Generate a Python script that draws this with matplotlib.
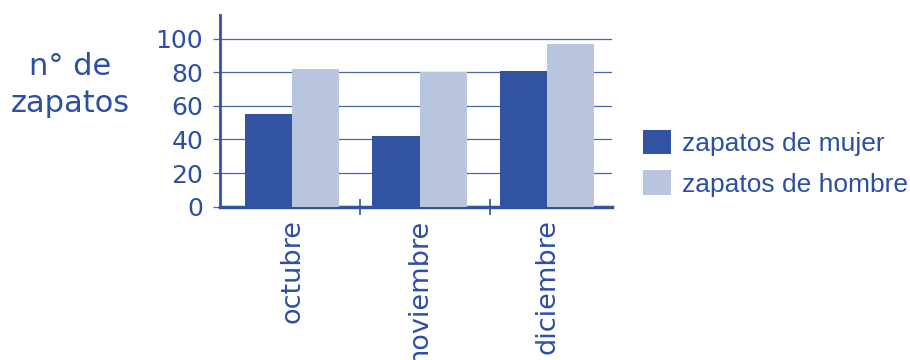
import matplotlib
matplotlib.use("Agg")
import matplotlib.pyplot as plt
import numpy as np

categories = ["octubre", "noviembre", "diciembre"]
mujer = [55, 42, 81]
hombre = [82, 80, 97]
yticks = [0, 20, 40, 60, 80, 100]
series_labels = ["zapatos de mujer", "zapatos de hombre"]

TXT = "#2c4ea4"
DARK = "#3153a2"
LIGHT = "#b9c4de"
GRID = "#4a64a8"

plt.rcParams['font.family'] = ['DejaVu Sans']

fig = plt.figure(figsize=(9.1, 3.6), dpi=100)
fig.patch.set_facecolor("white")
ax = fig.add_axes([0.2418, 0.4258, 0.4308, 0.5325])

x = np.arange(len(categories))
w = 0.37
b1 = ax.bar(x - w / 2, mujer, width=w, color=DARK, zorder=3, label=series_labels[0])
b2 = ax.bar(x + w / 2, hombre, width=w, color=LIGHT, zorder=3, label=series_labels[1])

ax.set_xlim(-0.565, 2.51)
ax.set_ylim(0, 114)
ax.set_yticks(yticks)
ax.set_yticklabels([str(v) for v in yticks], fontsize=18, color=TXT)
for v in yticks[1:]:
    ax.axhline(v, color=GRID, lw=0.9, zorder=1)
ax.tick_params(axis='y', length=5, width=0.9, color=GRID, pad=7)

ax.set_xticks(x)
ax.set_xticklabels(categories, rotation=90, fontsize=19.5, color=TXT, va='top', ha='center')
ax.tick_params(axis='x', which='major', length=0, pad=9)
ax.set_xticks([0.53, 1.55], minor=True)
ax.tick_params(axis='x', which='minor', direction='inout', length=12, width=1.2, color=DARK)

for s in ['top', 'right']:
    ax.spines[s].set_visible(False)
ax.spines['left'].set_color(DARK)
ax.spines['left'].set_linewidth(2)
ax.spines['bottom'].set_color(DARK)
ax.spines['bottom'].set_linewidth(2.5)

fig.text(0.077, 0.765, "n° de\nzapatos", fontsize=22, color=TXT, ha='center', va='center',
         multialignment='center', linespacing=1.35)

leg = fig.legend(handles=[b1, b2], labels=series_labels, loc='upper left',
                 bbox_to_anchor=(0.707, 0.64), frameon=False,
                 prop={'family': ['Liberation Sans', 'DejaVu Sans'], 'size': 19},
                 handlelength=1.05, handleheight=1.05, handletextpad=0.4,
                 labelspacing=0.55, borderpad=0, borderaxespad=0)
for t in leg.get_texts():
    t.set_color(TXT)

fig.savefig("out.png", dpi=100)
